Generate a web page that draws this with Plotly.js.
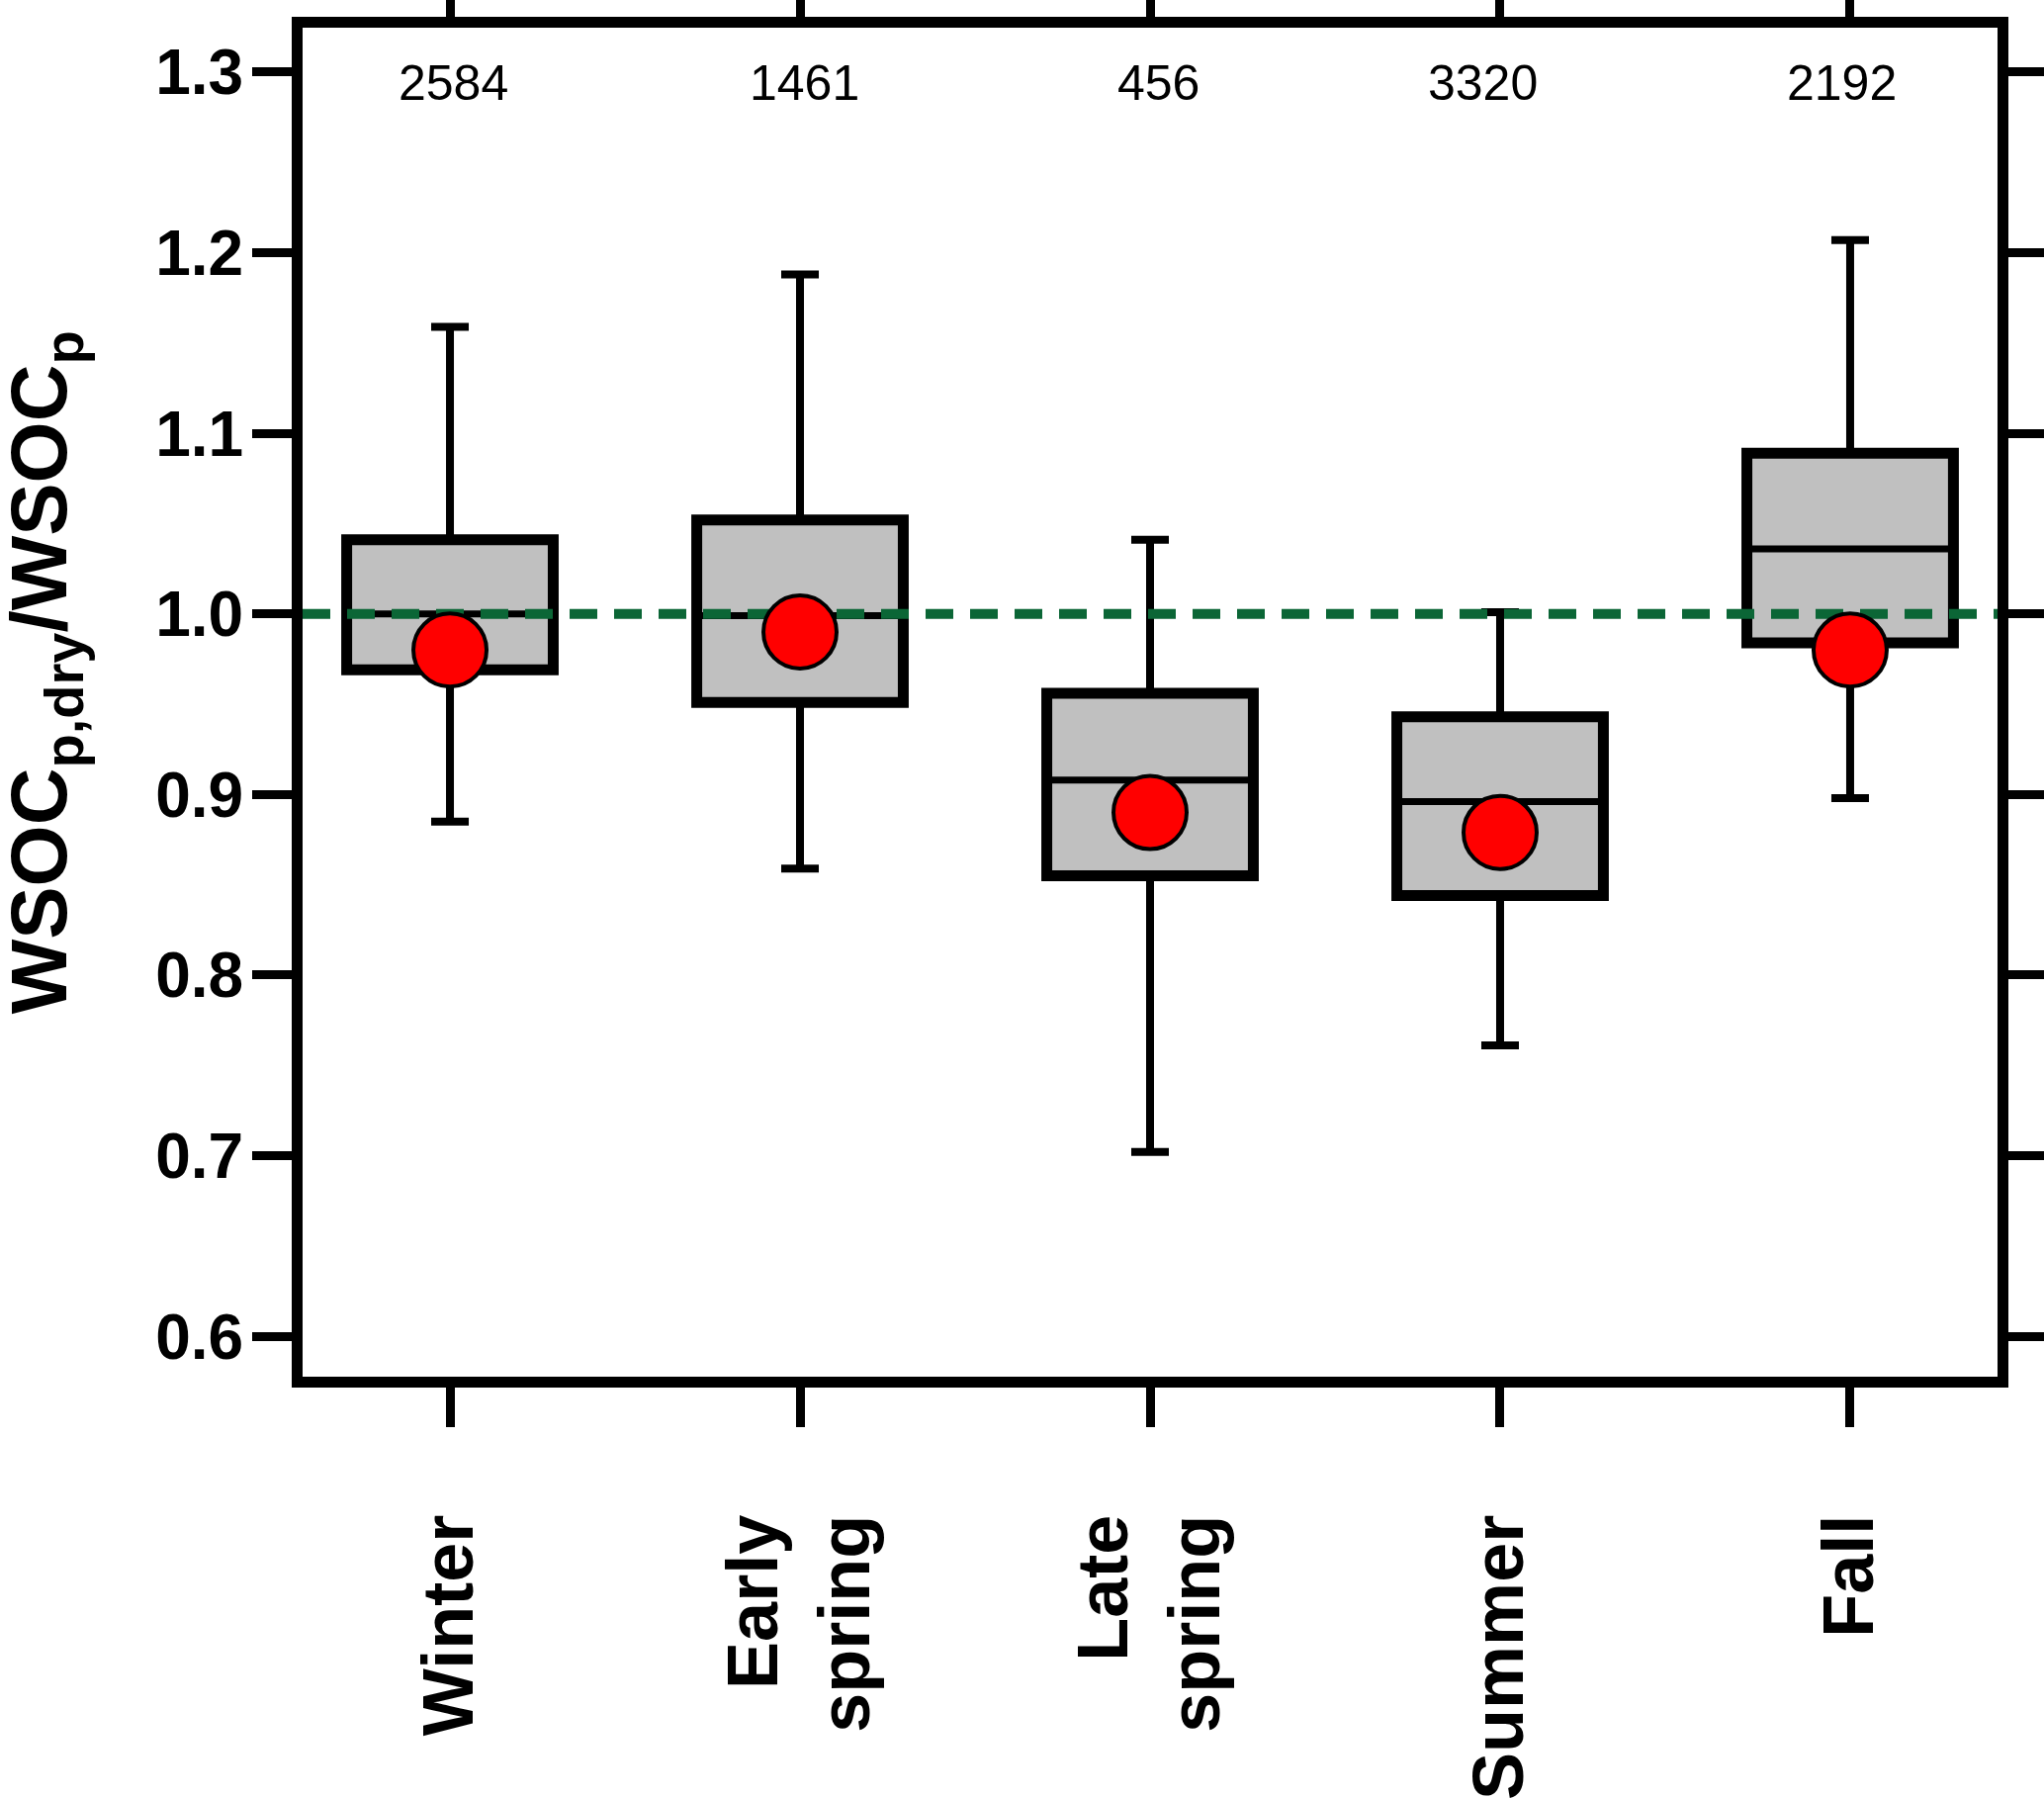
<!DOCTYPE html>
<html><head><meta charset="utf-8">
<script src="https://cdn.plot.ly/plotly-3.0.1.min.js"></script>
<style>html,body{margin:0;padding:0;background:#fff}#chart{width:2067px;height:1819px}</style>
</head><body><div id="chart"></div>
<script>
// ---- data ----
const categories = ['Winter', 'Early spring', 'Late spring', 'Summer', 'Fall'];
const tickLabels = ['Winter', 'Early<br>spring', 'Late<br>spring', 'Summer', 'Fall'];
const whiskerLow  = [0.885, 0.859, 0.702, 0.761, 0.898];
const q1          = [0.969, 0.951, 0.855, 0.844, 0.984];
const median      = [1.000, 0.999, 0.908, 0.896, 1.036];
const q3          = [1.041, 1.052, 0.956, 0.943, 1.089];
const whiskerHigh = [1.159, 1.188, 1.041, 1.001, 1.207];
const mean        = [0.980, 0.990, 0.890, 0.879, 0.980];
const counts      = [2584, 1461, 456, 3320, 2192];
const refValue = 1.0;
const yTicks = [0.6, 0.7, 0.8, 0.9, 1.0, 1.1, 1.2, 1.3];
const yTitle = 'WSOC<sub>p,dry</sub>/WSOC<sub>p</sub>';

// ---- layout constants ----
const xRange = [-0.421, 4.421];
const yRange = [0.5776, 1.3246];
const boxWidth = 0.59;
const countLabelY = 1.294;
const countShiftPx = [3, 4, 8, -17, -8];
const FONT = 'Liberation Sans, Arial, sans-serif';

const xs = categories.map((_, i) => i);

const traces = [
  { // boxes
    type: 'bar', x: xs, base: q1, y: q3.map((v, i) => v - q1[i]), width: boxWidth,
    marker: { color: '#c0c0c0', line: { color: '#000', width: 11 } },
    hoverinfo: 'skip'
  },
  { // upper whiskers
    type: 'scatter', mode: 'markers', x: xs, y: q3,
    marker: { size: 1, opacity: 0 },
    error_y: { type: 'data', symmetric: false, array: whiskerHigh.map((v, i) => v - q3[i]),
      arrayminus: q3.map(() => 0), color: '#000', thickness: 8, width: 19 }
  },
  { // lower whiskers
    type: 'scatter', mode: 'markers', x: xs, y: q1,
    marker: { size: 1, opacity: 0 },
    error_y: { type: 'data', symmetric: false, array: q1.map(() => 0),
      arrayminus: q1.map((v, i) => v - whiskerLow[i]), color: '#000', thickness: 8, width: 19 }
  },
  { // medians
    type: 'scatter', mode: 'markers', x: xs, y: median,
    marker: { size: 1, opacity: 0 },
    error_x: { type: 'data', symmetric: true, array: xs.map(() => boxWidth / 2),
      color: '#000', thickness: 7, width: 0 }
  },
  { // reference line
    type: 'scatter', mode: 'lines', x: xRange, y: [refValue, refValue],
    line: { color: '#0b6636', width: 10, dash: '28px,17px' }, cliponaxis: true
  },
  { // means
    type: 'scatter', mode: 'markers', x: xs, y: mean,
    marker: { size: 74, color: '#ff0000', line: { color: '#000', width: 4 } }
  }
];

const annotations = counts.map((c, i) => ({
  x: xs[i], y: countLabelY, xref: 'x', yref: 'y', text: String(c), showarrow: false,
  xshift: countShiftPx[i],
  font: { family: FONT, size: 50, color: '#000' }
}));
annotations.push({
  xref: 'paper', yref: 'paper', x: -0.1515, y: 0.522, xanchor: 'center', yanchor: 'middle',
  text: yTitle, textangle: -90, showarrow: false,
  font: { family: FONT, size: 80, weight: 'bold', color: '#000' }
});

const layout = {
  width: 2067, height: 1819,
  margin: { l: 306, r: 47, t: 28, b: 427 },
  paper_bgcolor: '#fff', plot_bgcolor: '#fff',
  showlegend: false, barmode: 'overlay',
  font: { family: FONT, color: '#000' },
  xaxis: {
    range: xRange, tickmode: 'array', tickvals: xs, ticktext: tickLabels, tickangle: -90,
    ticks: 'outside', ticklen: 40, tickwidth: 9, tickcolor: '#000',
    showline: true, linewidth: 11, linecolor: '#000', mirror: 'ticks',
    showgrid: false, zeroline: false,
    tickfont: { family: FONT, size: 72, weight: 'bold', color: '#000' },
    ticklabelstandoff: 60
  },
  yaxis: {
    range: yRange, tickmode: 'array', tickvals: yTicks, ticktext: yTicks.map(v => v.toFixed(1)),
    ticks: 'outside', ticklen: 40, tickwidth: 9, tickcolor: '#000',
    showline: true, linewidth: 11, linecolor: '#000', mirror: 'ticks',
    showgrid: false, zeroline: false,
    tickfont: { family: FONT, size: 64, weight: 'bold', color: '#000' },
    ticklabelstandoff: -4
  },
  annotations: annotations
};

Plotly.newPlot('chart', traces, layout, { displayModeBar: false, staticPlot: true });
</script>
</body></html>
